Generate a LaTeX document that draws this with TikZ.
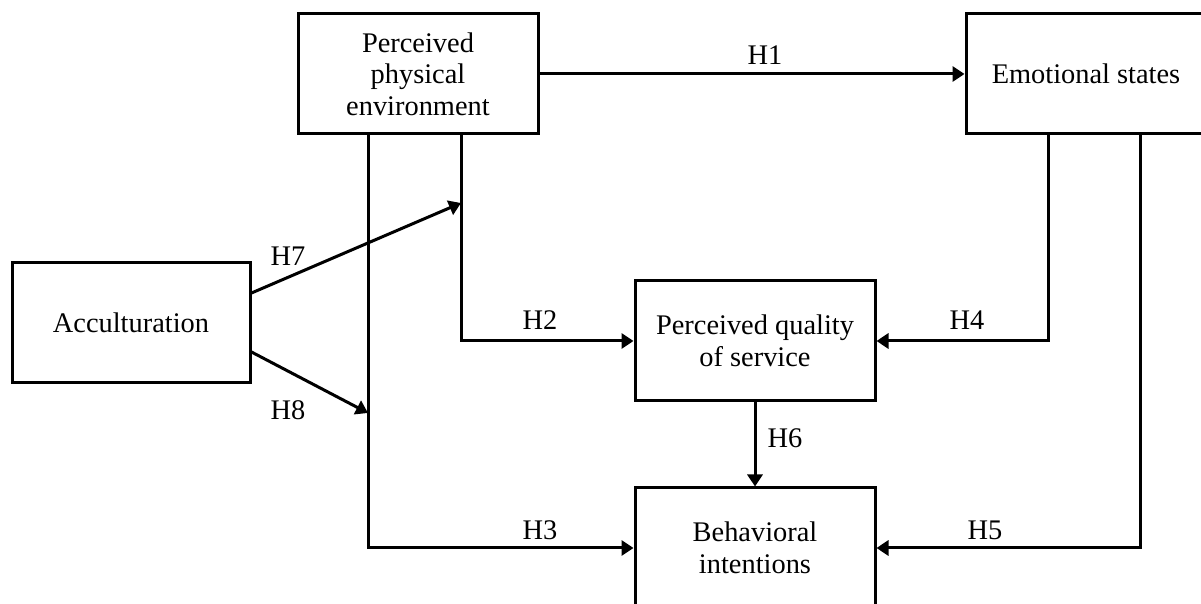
\documentclass[tikz,border=0pt]{standalone}
\usepackage{fontspec}
\setmainfont{Liberation Serif}
\usetikzlibrary{arrows.meta}
\begin{document}
\begin{tikzpicture}[x=0.5pt,y=-0.5pt,
  box/.style={draw,line width=1.5pt,minimum width=120pt,minimum height=60pt,align=center,inner sep=0pt,font=\fontsize{14.2}{15.75}\selectfont},
  arr/.style={line width=1.5pt,-{Triangle[length=6pt,width=7.5pt]}},
  conn/.style={line width=1.5pt},
  lbl/.style={font=\fontsize{14.2}{15.75}\selectfont,inner sep=0pt}]
\useasboundingbox (0,0) rectangle (1201,604);
\node[box] (ppe) at (418,74) {Perceived\\physical\\environment};
\node[box] (es) at (1086,74) {Emotional states};
\node[box,minimum width=119pt] (acc) at (131,323) {Acculturation};
\node[box] (pqs) at (755,341) {Perceived quality\\of service};
\node[box] (bi) at (755,548) {Behavioral\\intentions};
\coordinate (j7) at (461,203);
\coordinate (j8) at (368,413);
\coordinate (e4) at (1048,0);
\coordinate (e5) at (1140,0);
% H1
\draw[arr] (ppe) -- (es);
% H2
\draw[arr] (ppe.south -| j7) |- (pqs.west);
% H3
\draw[arr] (ppe.south -| j8) |- (bi.west);
% H4
\draw[arr] (es.south -| e4) |- (pqs.east);
% H5
\draw[arr] (es.south -| e5) |- (bi.east);
% H6
\draw[arr] (pqs) -- (bi);
% H7, H8
\draw[arr] (acc.east |- 0,293) -- (j7);
\draw[arr] (acc.east |- 0,352) -- (j8);
% labels
\node[lbl] (h1) at (765,55) {H1};
\node[lbl] (h2) at (540,320) {H2};
\node[lbl] (h3) at (540,530) {H3};
\node[lbl] (h4) at (967,320) {H4};
\node[lbl] (h5) at (985,530) {H5};
\node[lbl] (h6) at (785,438) {H6};
\node[lbl] (h7) at (288,256) {H7};
\node[lbl] (h8) at (288,410) {H8};
\end{tikzpicture}
\end{document}
